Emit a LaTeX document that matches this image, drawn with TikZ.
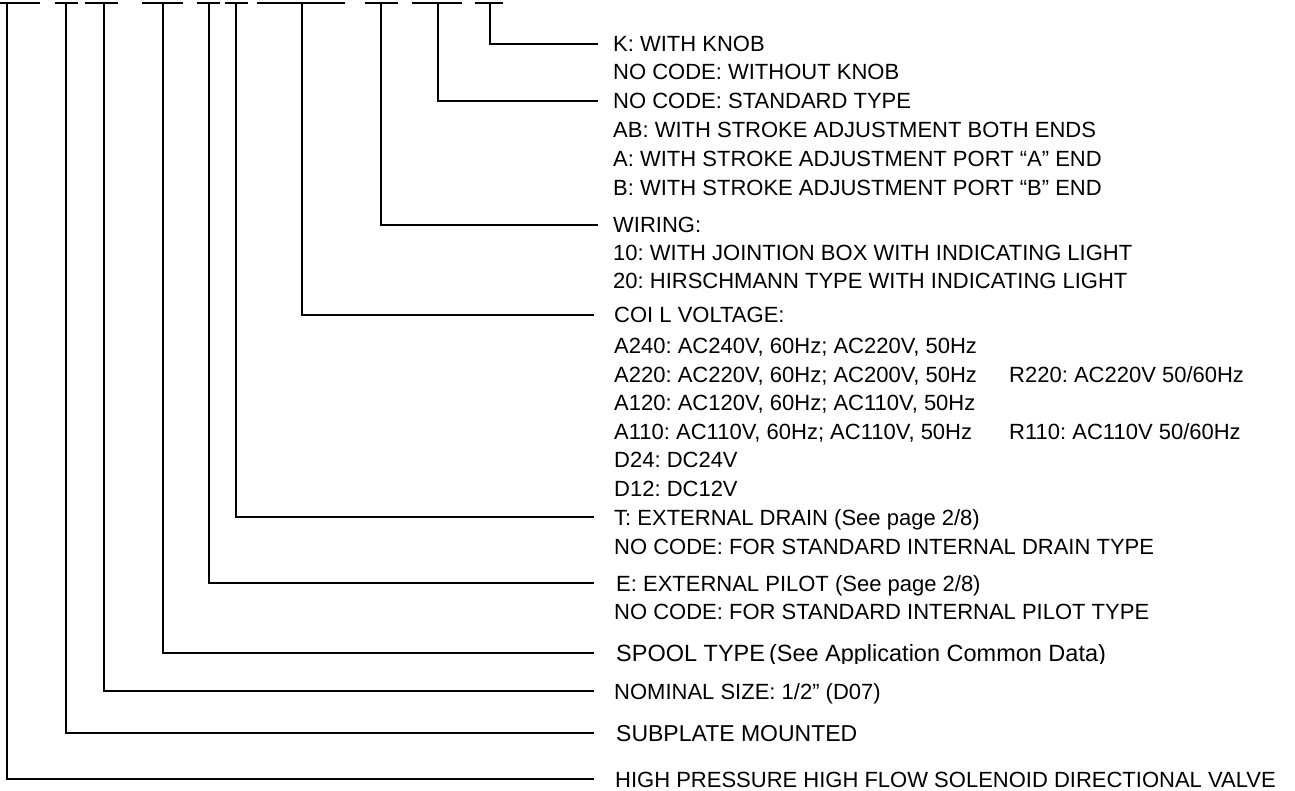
\documentclass[tikz,border=0pt]{standalone}
\usepackage{fontspec}
\setmainfont{Liberation Sans}
\begin{document}
\frenchspacing
\begin{tikzpicture}[x=1pt,y=-1pt,
  lead/.style={draw=black,line width=1.1pt},
  ul/.style={draw=black,line width=1.2pt},
  txt/.style={anchor=base west,inner sep=0pt,font=\fontsize{22}{28.7}\selectfont}]
\useasboundingbox (0,0) rectangle (1295,791);
% underline segments of the (cropped) model code
\draw[ul] (0,3) -- (40,3);
\draw[ul] (55,3) -- (78,3);
\draw[ul] (85,3) -- (118,3);
\draw[ul] (142,3) -- (183,3);
\draw[ul] (197,3) -- (220,3);
\draw[ul] (225,3) -- (248,3);
\draw[ul] (257,3) -- (345,3);
\draw[ul] (365,3) -- (398,3);
\draw[ul] (412,3) -- (462,3);
\draw[ul] (475,3) -- (503,3);
% top coordinates
\coordinate (c1) at (7,3);
\coordinate (c2) at (66,3);
\coordinate (c3) at (104,3);
\coordinate (c4) at (163,3);
\coordinate (c5) at (209,3);
\coordinate (c6) at (236,3);
\coordinate (c7) at (302,3);
\coordinate (c8) at (381,3);
\coordinate (c9) at (438,3);
\coordinate (c10) at (490,3);
% leader ends
\coordinate (e10) at (598,44);
\coordinate (e9) at (598,101);
\coordinate (e8) at (598,225);
\coordinate (e7) at (594,315);
\coordinate (e6) at (594,517);
\coordinate (e5) at (594,583);
\coordinate (e4) at (594,653);
\coordinate (e3) at (594,691);
\coordinate (e2) at (594,733);
\coordinate (e1) at (594,779);
\foreach \i in {1,...,10} \draw[lead] (c\i) |- (e\i);
% texts
\node[txt] (k1) at (613,52) {K: WITH KNOB};
\node[txt] (k2) at (613,80) {NO CODE: WITHOUT KNOB};
\node[txt] (s1) at (613,109) {NO CODE: STANDARD TYPE};
\node[txt] (s2) at (613,138) {AB: WITH STROKE ADJUSTMENT BOTH ENDS};
\node[txt] (s3) at (613,167) {A: WITH STROKE ADJUSTMENT PORT “A” END};
\node[txt] (s4) at (613,196) {B: WITH STROKE ADJUSTMENT PORT “B” END};
\node[txt] (w1) at (613,233) {WIRING:};
\node[txt] (w2) at (613,261) {10: WITH JOINTION BOX WITH INDICATING LIGHT};
\node[txt] (w3) at (613,289) {20: HIRSCHMANN TYPE WITH INDICATING LIGHT};
\node[txt] (v1) at (614,323) {COI L VOLTAGE:};
\node[txt] (v2) at (614,353) {A240: AC240V, 60Hz; AC220V, 50Hz};
\node[txt] (v3) at (614,382) {A220: AC220V, 60Hz; AC200V, 50Hz};
\node[txt] (v3r) at (1009,382) {R220: AC220V 50/60Hz};
\node[txt] (v4) at (614,410) {A120: AC120V, 60Hz; AC110V, 50Hz};
\node[txt] (v5) at (614,439) {A110: AC110V, 60Hz; AC110V, 50Hz};
\node[txt] (v5r) at (1009,439) {R110: AC110V 50/60Hz};
\node[txt] (v6) at (614,467) {D24: DC24V};
\node[txt] (v7) at (614,496) {D12: DC12V};
\node[txt] (t1) at (614,525) {T: EXTERNAL DRAIN (See page 2/8)};
\node[txt] (t2) at (614,554) {NO CODE: FOR STANDARD INTERNAL DRAIN TYPE};
\node[txt] (p1) at (616,591) {E: EXTERNAL PILOT (See page 2/8)};
\node[txt] (p2) at (614,619) {NO CODE: FOR STANDARD INTERNAL PILOT TYPE};
\begin{scope}
\clip (600,630) rectangle (1200,663);
\node[txt,font=\fontsize{23.5}{28.7}\selectfont] (sp) at (616,661) {SPOOL TYPE\,(See Application Common Data)};
\end{scope}
\node[txt] (ns) at (614,699) {NOMINAL SIZE: 1/2” (D07)};
\node[txt,font=\fontsize{23}{28.7}\selectfont] (sm) at (616,741) {SUBPLATE MOUNTED};
\node[txt] (hp) at (615,787) {HIGH PRESSURE HIGH FLOW SOLENOID DIRECTIONAL VALVE};
\end{tikzpicture}
\end{document}
